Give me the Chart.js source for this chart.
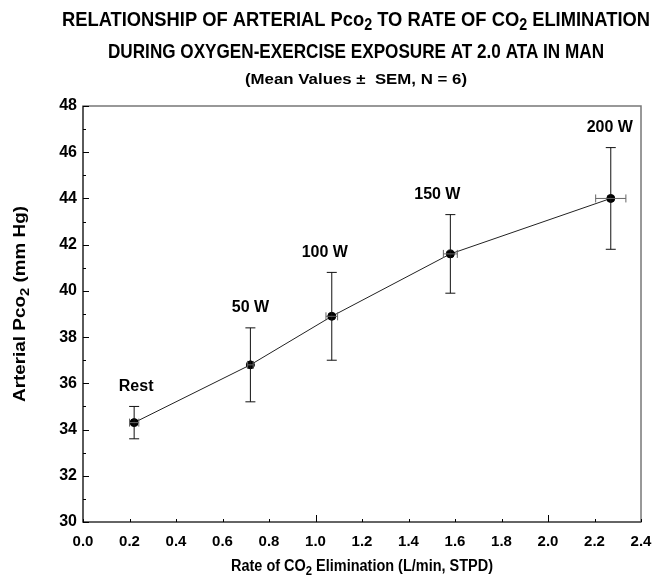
<!DOCTYPE html>
<html>
<head>
<meta charset="utf-8">
<script src="https://cdn.jsdelivr.net/npm/chart.js@4"></script>
<style>
html,body{margin:0;padding:0;background:#fff;}
#wrap{width:655px;height:583px;position:relative;}
</style>
</head>
<body>
<div id="wrap"><canvas id="c" width="655" height="583"></canvas></div>
<script>
// ---- data ----
const workLabels = ['Rest', '50 W', '100 W', '150 W', '200 W'];
const co2Elim = [0.22, 0.72, 1.07, 1.58, 2.27];
const co2ElimSem = [0.02, 0.012, 0.025, 0.03, 0.065];
const arterialPco2 = [34.3, 36.8, 38.9, 41.6, 44.0];
const arterialPco2Sem = [0.7, 1.6, 1.9, 1.7, 2.2];
const xTicks = [0.0, 0.2, 0.4, 0.6, 0.8, 1.0, 1.2, 1.4, 1.6, 1.8, 2.0, 2.2, 2.4];
const yTicks = [30, 32, 34, 36, 38, 40, 42, 44, 46, 48];

// ---- layout / style constants ----
const FONT = '"Liberation Sans", Arial, sans-serif';
const labelDx = [2, 0, -7, -13, -1];

// draws bold text made of segments (subscripts supported); optional target width squeezes horizontally
function drawRich(ctx, segs, x, y, size, targetW) {
  ctx.save();
  ctx.textBaseline = 'middle';
  ctx.fillStyle = '#000';
  let w = 0;
  const parts = segs.map(s => {
    const fs = s.sub ? size * 0.78 : size;
    ctx.font = 'bold ' + fs + 'px ' + FONT;
    const m = ctx.measureText(s.t).width;
    w += m;
    return {t: s.t, fs, m, dy: s.sub ? size * 0.3 : 0};
  });
  const sx = targetW ? targetW / w : 1;
  ctx.translate(x, y);
  ctx.scale(sx, 1);
  let cx = -w / 2;
  ctx.textAlign = 'left';
  parts.forEach(p => {
    ctx.font = 'bold ' + p.fs + 'px ' + FONT;
    ctx.fillText(p.t, cx, p.dy);
    cx += p.m;
  });
  ctx.restore();
}

const decor = {
  id: 'decor',
  afterDraw(chart) {
    const ctx = chart.ctx;
    const xs = chart.scales.x, ys = chart.scales.y;
    const a = chart.chartArea;
    // frame
    ctx.save();
    ctx.strokeStyle = '#777';
    ctx.lineWidth = 1.5;
    ctx.strokeRect(a.left, a.top, a.right - a.left, a.bottom - a.top);
    ctx.strokeStyle = '#333';
    ctx.lineWidth = 1.2;
    ctx.beginPath();
    ctx.moveTo(a.left, a.top); ctx.lineTo(a.left, a.bottom); ctx.lineTo(a.right, a.bottom);
    ctx.stroke();
    // y ticks inside
    ctx.lineWidth = 1;
    ctx.strokeStyle = '#000';
    ctx.beginPath();
    for (let v = 30; v <= 48; v += 1) {
      const py = Math.round(ys.getPixelForValue(v)) + 0.5;
      const len = (v % 2 === 0) ? 6 : 3;
      ctx.moveTo(a.left, py); ctx.lineTo(a.left + len, py);
    }
    // x ticks inside
    xTicks.forEach(v => {
      const px = Math.round(xs.getPixelForValue(v)) + 0.5;
      const len = (Math.abs(v - 1) < 1e-6 || Math.abs(v - 2) < 1e-6) ? 7 : 3;
      ctx.moveTo(px, a.bottom); ctx.lineTo(px, a.bottom - len);
    });
    ctx.stroke();
    // error bars
    ctx.lineWidth = 1;
    for (let i = 0; i < co2Elim.length; i++) {
      const px = xs.getPixelForValue(co2Elim[i]);
      const py = ys.getPixelForValue(arterialPco2[i]);
      const yTop = ys.getPixelForValue(arterialPco2[i] + arterialPco2Sem[i]);
      const yBot = ys.getPixelForValue(arterialPco2[i] - arterialPco2Sem[i]);
      ctx.strokeStyle = '#111';
      ctx.beginPath();
      ctx.moveTo(px, yTop); ctx.lineTo(px, yBot);
      ctx.moveTo(px - 5, yTop); ctx.lineTo(px + 5, yTop);
      ctx.moveTo(px - 5, yBot); ctx.lineTo(px + 5, yBot);
      ctx.stroke();
      const xl = xs.getPixelForValue(co2Elim[i] - co2ElimSem[i]);
      const xr = xs.getPixelForValue(co2Elim[i] + co2ElimSem[i]);
      ctx.strokeStyle = '#666';
      ctx.beginPath();
      ctx.moveTo(xl, py); ctx.lineTo(xr, py);
      ctx.moveTo(xl, py - 4); ctx.lineTo(xl, py + 4);
      ctx.moveTo(xr, py - 4); ctx.lineTo(xr, py + 4);
      ctx.stroke();
      // point label
      drawRich(ctx, [{t: workLabels[i]}], px + labelDx[i], yTop - 20, 16, null);
    }
    ctx.restore();
    // titles
    drawRich(ctx, [{t: 'RELATIONSHIP OF ARTERIAL Pco'}, {t: '2', sub: true}, {t: ' TO RATE OF CO'}, {t: '2', sub: true}, {t: ' ELIMINATION'}], 356, 20, 20, 588);
    drawRich(ctx, [{t: 'DURING OXYGEN-EXERCISE EXPOSURE AT 2.0 ATA IN MAN'}], 356, 52, 20, 496);
    drawRich(ctx, [{t: '(Mean Values \u00B1  SEM, N = 6)'}], 356, 80, 15, 222);
    drawRich(ctx, [{t: 'Rate of CO'}, {t: '2', sub: true}, {t: ' Elimination (L/min, STPD)'}], 362, 567, 16, 262);
    ctx.save();
    ctx.translate(20, 304);
    ctx.rotate(-Math.PI / 2);
    drawRich(ctx, [{t: 'Arterial Pco'}, {t: '2', sub: true}, {t: ' (mm Hg)'}], 0, 0, 17, 196);
    ctx.restore();
  }
};

new Chart(document.getElementById('c'), {
  type: 'scatter',
  data: {
    datasets: [{
      data: co2Elim.map((x, i) => ({x, y: arterialPco2[i]})),
      showLine: true,
      borderColor: '#222',
      borderWidth: 1,
      pointRadius: 4,
      pointBackgroundColor: '#000',
      pointBorderColor: '#000',
      pointHoverRadius: 4
    }]
  },
  options: {
    responsive: false,
    animation: false,
    events: [],
    layout: {padding: {left: 0, right: 14, top: 106, bottom: 0}},
    plugins: {legend: {display: false}, tooltip: {enabled: false}},
    scales: {
      x: {
        type: 'linear', min: 0, max: 2.4,
        afterBuildTicks: s => { s.ticks = xTicks.map(v => ({value: v})); },
        afterFit: s => { s.height = 61; s.paddingLeft = 0; s.paddingRight = 0; },
        grid: {display: false, drawTicks: false},
        border: {display: false},
        ticks: {color: '#000', padding: 11, font: {family: FONT, size: 15, weight: 'bold'},
          callback: v => v.toFixed(1), maxRotation: 0, autoSkip: false}
      },
      y: {
        type: 'linear', min: 30, max: 48,
        afterBuildTicks: s => { s.ticks = yTicks.map(v => ({value: v})); },
        afterFit: s => { s.width = 83; s.paddingTop = 0; s.paddingBottom = 0; },
        grid: {display: false, drawTicks: false},
        border: {display: false},
        ticks: {color: '#000', padding: 6, font: {family: FONT, size: 16, weight: 'bold'}}
      }
    }
  },
  plugins: [decor]
});
</script>
</body>
</html>
